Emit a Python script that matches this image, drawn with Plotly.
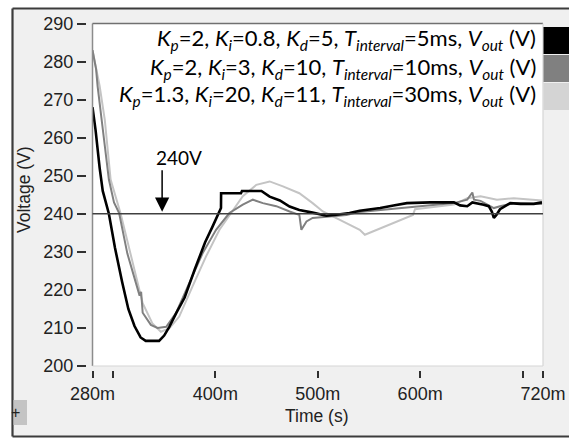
import plotly.graph_objects as go

# ---------------- data ----------------
t_black = [0.2800, 0.2830, 0.2870, 0.2900, 0.2960, 0.3020, 0.3090, 0.3150, 0.3210, 0.3270,
           0.3320, 0.3450, 0.3500, 0.3550, 0.3620, 0.3700, 0.3800, 0.3900, 0.3970, 0.4020,
           0.4055, 0.4056, 0.4250, 0.4260, 0.4450, 0.4530, 0.4630, 0.4725, 0.4820, 0.4950,
           0.5085, 0.5200, 0.5310, 0.5410, 0.5610, 0.5740, 0.5870, 0.6100, 0.6330, 0.6390,
           0.6460, 0.6510, 0.6560, 0.6620, 0.6670, 0.6700, 0.6720, 0.6745, 0.6780, 0.6830,
           0.6880, 0.6980, 0.7110, 0.7190]
v_black = [268.0, 262.0, 252.0, 246.0, 240.0, 231.0, 222.0, 215.0, 210.5, 207.5,
           206.6, 206.6, 208.0, 210.3, 214.0, 218.0, 225.5, 232.5, 236.5, 239.5,
           241.5, 245.4, 245.4, 246.0, 246.0, 244.5, 243.5, 241.9, 241.0, 240.3,
           239.5, 239.8, 240.2, 240.8, 241.5, 242.2, 242.8, 243.0, 243.0, 242.2,
           242.0, 243.0, 242.8, 242.4, 242.0, 240.6, 238.9, 239.7, 241.2, 242.0,
           242.8, 242.6, 242.6, 243.0]

t_gray = [0.2800, 0.2835, 0.2850, 0.2885, 0.2960, 0.3010, 0.3060, 0.3140, 0.3240, 0.3260,
          0.3275, 0.3290, 0.3370, 0.3435, 0.3520, 0.3615, 0.3745, 0.3875, 0.4007, 0.4137,
          0.4268, 0.4366, 0.4464, 0.4595, 0.4725, 0.4760, 0.4820, 0.4840, 0.4890, 0.4950,
          0.5085, 0.5280, 0.5410, 0.5610, 0.5930, 0.6100, 0.6330, 0.6460, 0.6510, 0.6526,
          0.6590, 0.6720, 0.6780, 0.6915, 0.7190]
v_gray = [283.0, 278.0, 273.5, 265.6, 249.0, 243.0, 240.2, 229.6, 220.0, 218.5,
          219.5, 214.0, 210.8, 210.0, 210.3, 213.9, 221.8, 229.6, 235.8, 240.2,
          242.4, 243.7, 242.8, 242.0, 240.6, 240.3, 239.7, 235.8, 238.0, 238.9,
          239.2, 239.7, 240.5, 241.0, 241.9, 242.4, 242.8, 243.7, 245.6, 243.7,
          243.4, 241.5, 242.0, 242.8, 242.6]

t_light = [0.2800, 0.2840, 0.2870, 0.2920, 0.2977, 0.3075, 0.3190, 0.3290, 0.3385, 0.3468,
           0.3550, 0.3647, 0.3777, 0.3909, 0.4040, 0.4154, 0.4268, 0.4400, 0.4530, 0.4660,
           0.4820, 0.4950, 0.5050, 0.5216, 0.5410, 0.5460, 0.5610, 0.5770, 0.5930, 0.5950,
           0.6100, 0.6330, 0.6460, 0.6590, 0.6750, 0.6915, 0.7190]
v_light = [283.0, 278.0, 273.5, 264.7, 249.0, 240.0, 227.0, 216.5, 211.2, 209.0,
           209.9, 213.0, 220.9, 228.8, 235.8, 240.2, 244.6, 247.6, 248.5, 247.2,
           245.4, 242.8, 240.6, 238.4, 235.8, 234.5, 236.2, 238.0, 239.7, 241.2,
           241.7, 242.4, 244.1, 244.6, 243.7, 244.1, 243.5]

series_names = [
    "<i>K<sub>p</sub></i>=2, <i>K<sub>i</sub></i>=0.8, <i>K<sub>d</sub></i>=5, <i>T<sub>interval</sub></i>=5ms, <i>V<sub>out</sub></i> (V)",
    "<i>K<sub>p</sub></i>=2, <i>K<sub>i</sub></i>=3, <i>K<sub>d</sub></i>=10, <i>T<sub>interval</sub></i>=10ms, <i>V<sub>out</sub></i> (V)",
    "<i>K<sub>p</sub></i>=1.3, <i>K<sub>i</sub></i>=20, <i>K<sub>d</sub></i>=11, <i>T<sub>interval</sub></i>=30ms, <i>V<sub>out</sub></i> (V)",
]
series_colors = ["#000000", "#808080", "#c4c4c4"]
swatch_colors = ["#000000", "#808080", "#d4d4d4"]

x_tickvals = [0.28, 0.30, 0.40, 0.50, 0.60, 0.70, 0.72]
x_ticktext = ["280m", "", "400m", "500m", "600m", "", "720m"]
y_tickvals = [200, 210, 220, 230, 240, 250, 260, 270, 280, 290]
setpoint = 240
arrow_time = 0.348

# ---------------- geometry helpers (paper = whole figure) ----------------
W, H = 569, 439
def px(xp):
    return xp / W
def py(yp):
    return (H - yp) / H

PL, PR, PT, PB = 92.5, 543.0, 23.5, 366.0   # plot area in pixels
FONT = "Liberation Sans"
LFONT = "Lato"

fig = go.Figure()
fig.add_trace(go.Scatter(x=t_light, y=v_light, mode="lines", name=series_names[2],
                         line=dict(color=series_colors[2], width=2), showlegend=False))
fig.add_trace(go.Scatter(x=t_gray, y=v_gray, mode="lines", name=series_names[1],
                         line=dict(color=series_colors[1], width=2), showlegend=False))
fig.add_trace(go.Scatter(x=t_black, y=v_black, mode="lines", name=series_names[0],
                         line=dict(color=series_colors[0], width=2.6), showlegend=False))

shapes = []
# grey panel
shapes.append(dict(type="rect", xref="paper", yref="paper", x0=px(12.5), x1=1.0, y0=py(436.5), y1=py(8.5),
                   fillcolor="#f0f0f0", line=dict(width=0), layer="below"))
# white plot area
shapes.append(dict(type="rect", xref="paper", yref="paper", x0=px(PL), x1=px(PR), y0=py(PB), y1=py(PT),
                   fillcolor="white", line=dict(width=0), layer="below"))
# dark frame lines of the panel
FR = dict(color="#3c3c3c", width=2.2)
shapes.append(dict(type="line", xref="paper", yref="paper", x0=px(12.5), x1=px(12.5), y0=py(436.5), y1=py(8.5), line=FR))
shapes.append(dict(type="line", xref="paper", yref="paper", x0=px(12.5), x1=1.0, y0=py(8.5), y1=py(8.5), line=FR))
shapes.append(dict(type="line", xref="paper", yref="paper", x0=px(12.5), x1=1.0, y0=py(436.5), y1=py(436.5), line=FR))
# plot border
shapes.append(dict(type="line", xref="paper", yref="paper", x0=px(PL), x1=px(PL), y0=py(PB), y1=py(PT),
                   line=dict(color="#8c8c8c", width=1.5)))
shapes.append(dict(type="line", xref="paper", yref="paper", x0=px(PL), x1=px(PR), y0=py(PT), y1=py(PT),
                   line=dict(color="#707070", width=1.5)))
shapes.append(dict(type="line", xref="paper", yref="paper", x0=px(PR), x1=px(PR), y0=py(PB), y1=py(PT),
                   line=dict(color="#d6d6d6", width=1.2)))
shapes.append(dict(type="line", xref="paper", yref="paper", x0=px(PL), x1=px(PR), y0=py(PB), y1=py(PB),
                   line=dict(color="#d6d6d6", width=1.2)))
# setpoint line
shapes.append(dict(type="line", xref="x domain", yref="y", x0=0, x1=1, y0=setpoint, y1=setpoint,
                   line=dict(color="#404040", width=1.5)))
# legend swatches
sw_rows = [(27, 54), (55, 82), (83, 110)]
for (y0, y1), c in zip(sw_rows, swatch_colors):
    shapes.append(dict(type="rect", xref="paper", yref="paper", x0=px(543.5), x1=1.0, y0=py(y1), y1=py(y0),
                       fillcolor=c, line=dict(width=0), layer="above"))
# small "+" button at bottom-left
shapes.append(dict(type="rect", xref="paper", yref="paper", x0=px(13.5), x1=px(27), y0=py(425), y1=py(400),
                   fillcolor="#c4c4c4", line=dict(width=0), layer="above"))

annotations = []
for (y0, y1), name in zip(sw_rows, series_names):
    annotations.append(dict(xref="paper", yref="paper", x=px(538), y=py((y0 + y1) / 2 - 1), text=name,
                            showarrow=False, xanchor="right", yanchor="middle", align="right",
                            font=dict(family=LFONT, size=22, color="black")))
# 240V label and arrow
annotations.append(dict(x=arrow_time, y=setpoint, xref="x", yref="y", text="", showarrow=True,
                        ax=0, ay=-45, arrowhead=2, arrowsize=1.9, arrowwidth=1.5, arrowcolor="black",
                        standoff=2))
annotations.append(dict(xref="paper", yref="paper", x=px(179), y=py(157), text="240V", showarrow=False,
                        xanchor="center", yanchor="middle", font=dict(family=LFONT, size=19, color="black")))
# axis titles
annotations.append(dict(xref="paper", yref="paper", x=px(317), y=py(416), text="Time (s)", showarrow=False,
                        xanchor="center", yanchor="middle", font=dict(family=FONT, size=17.5, color="#222222")))
annotations.append(dict(xref="paper", yref="paper", x=px(24), y=py(190), text="Voltage (V)", showarrow=False,
                        textangle=-90, xanchor="center", yanchor="middle",
                        font=dict(family=FONT, size=17.5, color="#222222")))
annotations.append(dict(xref="paper", yref="paper", x=px(16), y=py(412), text="+", showarrow=False,
                        xanchor="center", yanchor="middle", font=dict(family=FONT, size=16, color="#222222")))

fig.update_layout(
    width=W, height=H,
    margin=dict(l=0, r=0, t=0, b=0, pad=0),
    paper_bgcolor="white",
    plot_bgcolor="rgba(0,0,0,0)",
    xaxis=dict(range=[0.28, 0.72], domain=[px(PL), px(PR)], anchor="free", position=py(370),
               tickmode="array", tickvals=x_tickvals, ticktext=x_ticktext,
               ticks="outside", ticklen=7, tickwidth=1.5, tickcolor="#303030",
               ticklabeloverflow="allow", automargin=False,
               showgrid=False, zeroline=False, showline=False,
               tickfont=dict(family=FONT, size=18, color="#222222")),
    yaxis=dict(range=[200, 290], domain=[py(PB), py(PT)], anchor="free", position=px(86),
               tickmode="array", tickvals=y_tickvals,
               ticks="outside", ticklen=9, tickwidth=1.5, tickcolor="#303030",
               ticklabeloverflow="allow", automargin=False,
               showgrid=False, zeroline=False, showline=False,
               tickfont=dict(family=FONT, size=18, color="#222222")),
    shapes=shapes,
    annotations=annotations,
    showlegend=False,
)

fig.write_html("out.html", config={"displayModeBar": False},
               post_script="document.body.style.margin='0px';document.body.style.overflow='hidden';")
